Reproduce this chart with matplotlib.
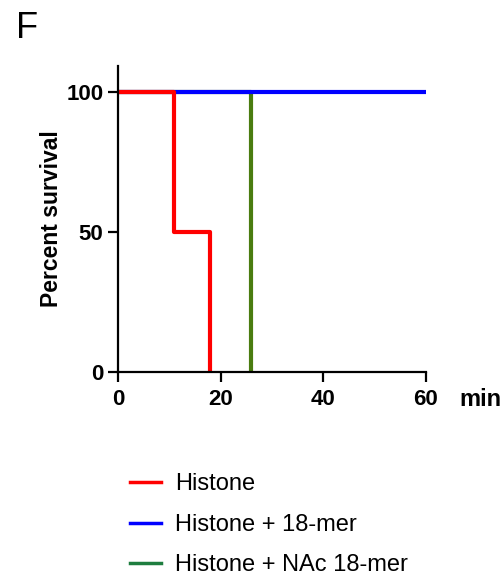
import numpy as np
import matplotlib
matplotlib.use("Agg")
import matplotlib.pyplot as plt
from matplotlib.lines import Line2D

plt.rcParams['font.family'] = ['Liberation Sans', 'DejaVu Sans']

# Kaplan-Meier steps (time in min, percent survival)
histone_t = [0, 11, 18]
histone_s = [100, 50, 0]
mer_t = [0, 60]
mer_s = [100, 100]
nac_t = [0, 26]
nac_s = [100, 0]

labels = ["Histone", "Histone + 18-mer", "Histone + NAc 18-mer"]
colors = ["#ff0000", "#0000ff", "#4a7c10"]
legend_colors = ["#ff0000", "#0000ff", "#1e7d3f"]
xticks = [0, 20, 40, 60]
yticks = [0, 50, 100]

fig = plt.figure(figsize=(5.01, 5.84), dpi=100)
ax = fig.add_axes([118/501, 1-372/584, 308/501, 306/584])

ax.plot(nac_t, nac_s, drawstyle="steps-post", color=colors[2], lw=3.0, solid_capstyle="butt")
ax.plot(mer_t, mer_s, drawstyle="steps-post", color=colors[1], lw=3.0, solid_capstyle="butt")
ax.plot(histone_t, histone_s, drawstyle="steps-post", color=colors[0], lw=3.0, solid_capstyle="butt")

ax.set_xlim(0, 60)
ax.set_ylim(0, 109.3)
ax.set_xticks(xticks)
ax.set_yticks(yticks)
for sp in ["top", "right"]:
    ax.spines[sp].set_visible(False)
for sp in ["left", "bottom"]:
    ax.spines[sp].set_linewidth(1.6)
ax.tick_params(length=7.5, width=1.6, labelsize=16)
ax.tick_params(axis="x", pad=5)
ax.tick_params(axis="y", pad=3)
for lab in ax.get_xticklabels() + ax.get_yticklabels():
    lab.set_fontweight("bold")
ax.set_ylabel("Percent survival", fontsize=16.5, fontweight="bold")
ax.yaxis.set_label_coords(-0.178, 0.5)

fig.text(459/501, 1-400/584, "min", fontsize=17, fontweight="bold", va="center", ha="left")
fig.text(16/501, 1-28/584, "F", fontsize=26, va="center", ha="left")

handles = [Line2D([0], [0], color=c, lw=2.5) for c in legend_colors]
fig.legend(handles, labels, loc="upper left", bbox_to_anchor=(121/501, 1-464/584),
           frameon=False, fontsize=17, handlelength=1.3, handletextpad=0.6,
           labelspacing=0.78, borderaxespad=0)

fig.savefig("out.png", dpi=100)
